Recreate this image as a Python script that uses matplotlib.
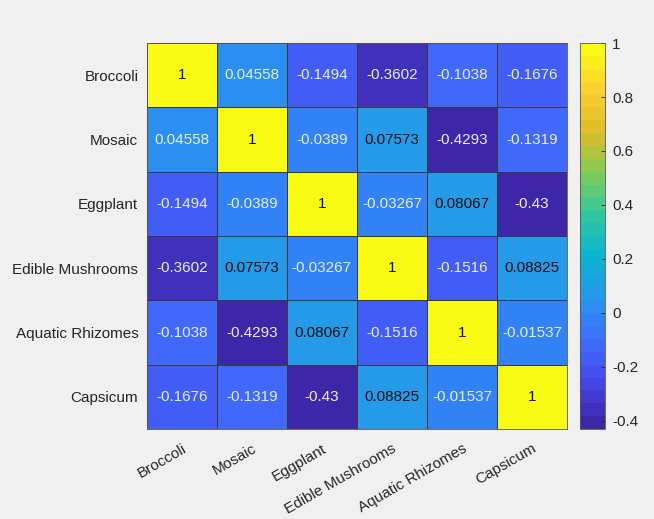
import numpy as np
import matplotlib
matplotlib.use("Agg")
import matplotlib.pyplot as plt
from matplotlib.colors import LinearSegmentedColormap, ListedColormap

plt.rcParams['font.family'] = ['Liberation Sans', 'DejaVu Sans']

# vegetable categories and their pairwise correlation coefficients
labels = ["Broccoli", "Mosaic", "Eggplant", "Edible Mushrooms",
          "Aquatic Rhizomes", "Capsicum"]

row_broccoli = [1, 0.04558, -0.1494, -0.3602, -0.1038, -0.1676]
row_mosaic = [0.04558, 1, -0.0389, 0.07573, -0.4293, -0.1319]
row_eggplant = [-0.1494, -0.0389, 1, -0.03267, 0.08067, -0.43]
row_mushrooms = [-0.3602, 0.07573, -0.03267, 1, -0.1516, 0.08825]
row_rhizomes = [-0.1038, -0.4293, 0.08067, -0.1516, 1, -0.01537]
row_capsicum = [-0.1676, -0.1319, -0.43, 0.08825, -0.01537, 1]

cbar_ticks = [-0.4, -0.2, 0, 0.2, 0.4, 0.6, 0.8, 1]

corr = np.array([row_broccoli, row_mosaic, row_eggplant,
                 row_mushrooms, row_rhizomes, row_capsicum])

# parula-like colormap, cut into discrete levels
parula_pts = [
    (0.2422, 0.1504, 0.6603), (0.2803, 0.2782, 0.9221),
    (0.2440, 0.4358, 0.9988), (0.1540, 0.5902, 0.9218),
    (0.0297, 0.7082, 0.8163), (0.1938, 0.7758, 0.6251),
    (0.5044, 0.7993, 0.3480), (0.8634, 0.7406, 0.1596),
    (0.9892, 0.8136, 0.1885), (0.9769, 0.9839, 0.0805),
]
smooth = LinearSegmentedColormap.from_list("parula", parula_pts)
cmap = ListedColormap(smooth(np.linspace(0, 1, 30)))

vmin, vmax = corr.min(), corr.max()
fs = 11

fig = plt.figure(figsize=(6.54, 5.19), dpi=100)
fig.patch.set_facecolor('#f0f0f0')

ax = fig.add_axes([0.2243, 0.1734, 0.6427, 0.7437])
mesh = ax.pcolormesh(corr, cmap=cmap, vmin=vmin, vmax=vmax,
                     edgecolors='#3a3a3a', linewidth=0.6)
ax.set_xlim(0, len(labels))
ax.set_ylim(len(labels), 0)

for i in range(len(labels)):
    for j in range(len(labels)):
        v = corr[i, j]
        txt = f"{v:.4g}"
        color = '#111111' if v > 0.06 else '#e8eef5'
        ax.text(j + 0.5, i + 0.5, txt, ha='center', va='center',
                fontsize=fs, color=color)

ax.set_xticks(np.arange(len(labels)) + 0.5)
ax.set_yticks(np.arange(len(labels)) + 0.5)
ax.set_xticklabels(labels, rotation=30, ha='right', va='top',
                   rotation_mode='anchor', fontsize=fs, color='#262626')
ax.set_yticklabels(labels, fontsize=fs, color='#262626')
ax.tick_params(length=0, pad=6)
ax.tick_params(axis='x', pad=9)
for s in ax.spines.values():
    s.set_color('#555555')
    s.set_linewidth(0.6)

cax = fig.add_axes([0.8869, 0.1734, 0.0382, 0.7437])
cb = fig.colorbar(mesh, cax=cax, ticks=cbar_ticks)
cb.ax.set_yticklabels([f"{t:g}" for t in cbar_ticks])
cb.ax.tick_params(direction='in', length=3, width=0.6, labelsize=fs,
                  colors='#262626', pad=5)
cb.outline.set_edgecolor('#555555')
cb.outline.set_linewidth(0.6)

fig.savefig("out.png", dpi=100, facecolor=fig.get_facecolor())
